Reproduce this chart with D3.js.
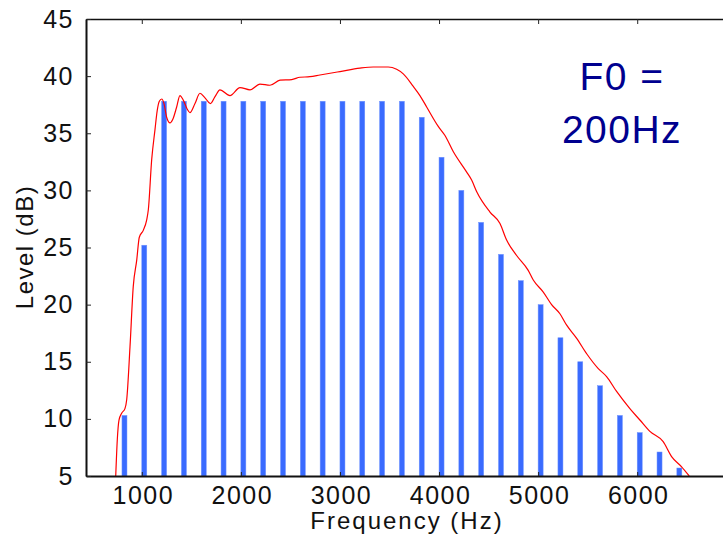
<!DOCTYPE html>
<html>
<head>
<meta charset="utf-8">
<script src="https://cdn.jsdelivr.net/npm/d3@7"></script>
<style>
  body { margin: 0; background: #fff; }
  text { font-family: 'Liberation Sans', Arial, sans-serif; }
</style>
</head>
<body>
<script>
var width = 723;
var height = 535;

// harmonics of F0 = 200 Hz
var harmonicFreqs = [800, 1000, 1200, 1400, 1600, 1800, 2000, 2200, 2400, 2600, 2800, 3000,
    3200, 3400, 3600, 3800, 4000, 4200, 4400, 4600, 4800, 5000, 5200, 5400, 5600, 5800,
    6000, 6200, 6400];
var harmonicLevels = [10.3, 25.2, 37.8, 37.8, 37.8, 37.8, 37.8, 37.8, 37.8, 37.8, 37.8, 37.8,
    37.8, 37.8, 37.8, 36.4, 32.9, 30.0, 27.2, 24.4, 22.1, 20.0, 17.1, 15.0, 12.9, 10.3,
    8.8, 7.1, 5.7];

// spectral envelope (red line)
var envFreqs = [737, 753, 770, 797, 830, 848, 881, 914, 949, 975, 1015, 1049, 1066, 1100,
    1133, 1156, 1177, 1201, 1224, 1251, 1285, 1312, 1352, 1385, 1419, 1459, 1486, 1537,
    1587, 1638, 1693, 1739, 1789, 1890, 1991, 2092, 2193, 2294, 2395, 2513, 2596, 2697,
    2798, 3000, 3202, 3336, 3487, 3572, 3639, 3740, 3807, 3875, 3992, 4060, 4143, 4279,
    4329, 4379, 4514, 4615, 4682, 4783, 4900, 4951, 5052, 5136, 5220, 5288, 5389, 5490,
    5607, 5691, 5792, 5926, 6027, 6128, 6262, 6347, 6448, 6525];
var envLevels = [5.0, 8.2, 9.9, 10.5, 10.9, 11.7, 16.3, 21.6, 23.9, 25.9, 26.5, 27.4, 28.3,
    32.7, 35.3, 37.0, 37.8, 38.0, 37.6, 36.4, 35.9, 36.2, 37.3, 38.3, 37.9, 37.1, 36.8,
    37.6, 38.5, 38.1, 37.6, 38.2, 38.8, 38.3, 39.0, 38.8, 39.3, 39.2, 39.65, 39.7, 39.9,
    39.95, 40.1, 40.4, 40.7, 40.8, 40.8, 40.6, 40.2, 39.1, 38.3, 37.3, 35.6, 34.8, 33.4,
    31.6, 30.9, 29.9, 28.1, 27.1, 25.65, 24.3, 23.0, 22.15, 21.1, 20.0, 19.2, 18.2, 17.05,
    15.7, 14.4, 13.7, 12.4, 10.9, 9.9, 8.9, 8.0, 6.7, 5.8, 5.0];

var xTicks = [1000, 2000, 3000, 4000, 5000, 6000];
var yTicks = [5, 10, 15, 20, 25, 30, 35, 40, 45];

var svg = d3.select('body')
    .append('svg')
    .attr('width', width)
    .attr('height', height);

var xScale = d3.scaleLinear()
    .domain([437, 7000])
    .range([86, 736.3]);

var yScale = d3.scaleLinear()
    .domain([5, 45])
    .range([476, 19]);

svg.append('clipPath')
    .attr('id', 'plotClip')
    .append('rect')
    .attr('x', 86)
    .attr('y', 19)
    .attr('width', 660)
    .attr('height', 457);

var plot = svg.append('g').attr('clip-path', 'url(#plotClip)');

// bars
plot.selectAll('rect.harm')
    .data(harmonicFreqs)
    .enter()
    .append('rect')
    .attr('class', 'harm')
    .attr('x', function (d) {
        return xScale(d);
    })
    .attr('y', function (d, i) {
        return yScale(harmonicLevels[i]);
    })
    .attr('width', 5)
    .attr('height', function (d, i) {
        return yScale(5) - yScale(harmonicLevels[i]);
    })
    .attr('fill', '#3a6bff')
    .attr('stroke', '#6f93ff')
    .attr('stroke-width', 0.5);

// envelope
var line = d3.line()
    .x(function (d) { return xScale(d); })
    .y(function (d, i) { return yScale(envLevels[i]); })
    .curve(d3.curveMonotoneX);

plot.append('path')
    .datum(envFreqs)
    .attr('d', line)
    .attr('fill', 'none')
    .attr('stroke', '#ff0000')
    .attr('stroke-width', 1.2);

// axes
var xAxis = d3.axisBottom(xScale)
    .tickValues(xTicks)
    .tickFormat(d3.format('d'))
    .tickSizeInner(-4)
    .tickSizeOuter(0)
    .tickPadding(10);

var gx = svg.append('g')
    .attr('transform', 'translate(0,476)')
    .call(xAxis);

var xAxisTop = d3.axisTop(xScale)
    .tickValues(xTicks)
    .tickSizeInner(-5)
    .tickSizeOuter(0)
    .tickFormat('');

var gxt = svg.append('g')
    .attr('transform', 'translate(0,19)')
    .call(xAxisTop);

var yAxis = d3.axisLeft(yScale)
    .tickValues(yTicks)
    .tickSizeInner(-5)
    .tickSizeOuter(0)
    .tickPadding(10);

var gy = svg.append('g')
    .attr('transform', 'translate(86,0)')
    .call(yAxis);

[gx, gxt, gy].forEach(function (g) {
    g.select('.domain').attr('stroke', '#111').attr('stroke-width', 2);
    g.selectAll('.tick line').attr('stroke', '#222').attr('stroke-width', 1);
    g.selectAll('.tick text')
        .attr('fill', '#111')
        .style('font-size', '25px')
        .style('letter-spacing', '1.5px')
        .style('font-family', "'Liberation Sans', Arial, sans-serif");
});
gxt.select('.domain').attr('stroke-width', 1.5);
gy.selectAll('.tick text').attr('dx', '-2');
gx.selectAll('.tick text').attr('dx', '1');

// labels
svg.append('text')
    .attr('x', 407)
    .attr('y', 529)
    .attr('text-anchor', 'middle')
    .attr('fill', '#111')
    .style('font-size', '24px')
    .style('letter-spacing', '2px')
    .text('Frequency (Hz)');

svg.append('text')
    .attr('transform', 'translate(33,247) rotate(-90)')
    .attr('text-anchor', 'middle')
    .attr('fill', '#111')
    .style('font-size', '24px')
    .style('letter-spacing', '1.5px')
    .text('Level (dB)');

svg.append('text')
    .attr('x', 622)
    .attr('y', 90)
    .attr('text-anchor', 'middle')
    .attr('fill', '#00008f')
    .style('font-size', '39px')
    .style('letter-spacing', '1.5px')
    .text('F0 =');

svg.append('text')
    .attr('x', 622)
    .attr('y', 143)
    .attr('text-anchor', 'middle')
    .attr('fill', '#00008f')
    .style('font-size', '39px')
    .style('letter-spacing', '1.5px')
    .text('200Hz');
</script>
</body>
</html>
